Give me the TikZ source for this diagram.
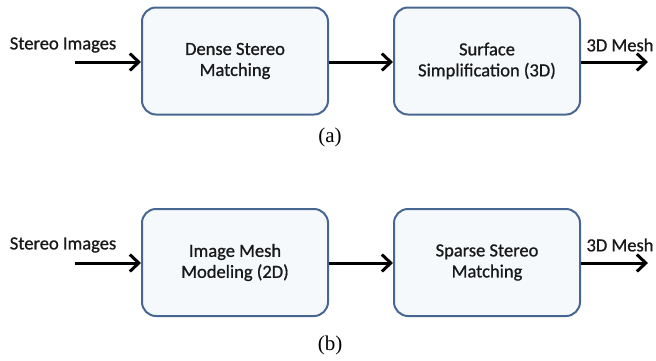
\documentclass[tikz,border=0pt]{standalone}
\usepackage{fontspec}
\setmainfont{Carlito}
\newfontfamily\labelfont{Carlito}[FakeBold=0.9]
\newfontfamily\captionfont{Liberation Serif}
\usetikzlibrary{arrows.meta}
\definecolor{boxline}{RGB}{72,102,146}
\definecolor{boxfill}{RGB}{246,249,252}
\definecolor{ink}{RGB}{25,25,25}
\tikzset{
  stagebox/.style={draw=boxline, line width=2pt, fill=boxfill, rounded corners=14pt,
    minimum width=186pt, minimum height=107pt, align=center, text=ink,
    font=\labelfont\fontsize{18.5}{21}\selectfont},
  flow/.style={line width=3pt, draw=black, -{Straight Barb[length=9pt,width=17pt,line width=3pt]}},
  tag/.style={text=ink, font=\labelfont\fontsize{18.5}{21}\selectfont, inner sep=0pt},
  subcap/.style={font=\captionfont\fontsize{21}{24}\selectfont, inner sep=0pt}
}
\begin{document}
\begin{tikzpicture}[x=1pt,y=-1pt]
\useasboundingbox (0,0) rectangle (656,360);

% pipeline (a)
\node[stagebox] (a1) at (235,61) {Dense Stereo\\Matching};
\node[stagebox] (a2) at (487,61) {Surface\\Simplification (3D)};
\coordinate (ain) at (75,62);
\coordinate (aout) at (648,62);
\node[tag] (ainl) at (63,45) {Stereo Images};
\node[tag] (aoutl) at (620,45) {3D Mesh};
\draw[flow] (ain) -- (a1.west |- ain);
\draw[flow] (a1.east |- ain) -- (a2.west |- ain);
\draw[flow] (a2.east |- aout) -- (aout);
\node[subcap] (capa) at (330,137) {(a)};

% pipeline (b)
\node[stagebox] (b1) at (235,262.5) {Image Mesh\\Modeling (2D)};
\node[stagebox] (b2) at (487,262.5) {Sparse Stereo\\Matching};
\coordinate (bin) at (75,263);
\coordinate (bout) at (648,263);
\node[tag] (binl) at (63,245) {Stereo Images};
\node[tag] (boutl) at (620,245) {3D Mesh};
\draw[flow] (bin) -- (b1.west |- bin);
\draw[flow] (b1.east |- bin) -- (b2.west |- bin);
\draw[flow] (b2.east |- bout) -- (bout);
\node[subcap] (capb) at (330,345) {(b)};
\end{tikzpicture}
\end{document}
